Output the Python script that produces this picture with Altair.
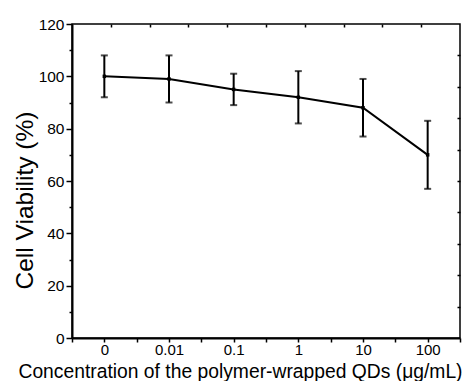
import json
import altair as alt
import pandas as pd

concentrations = ["0", "0.01", "0.1", "1", "10", "100"]
viability = [100, 99, 95, 92, 88, 70]
error = [8, 9, 6, 10, 11, 13]

df = pd.DataFrame({
    "idx": list(range(len(concentrations))),
    "conc": concentrations,
    "v": viability,
    "lo": [v - e for v, e in zip(viability, error)],
    "hi": [v + e for v, e in zip(viability, error)],
})

FONT = "Liberation Sans, Arial"
xscale = alt.Scale(domain=[-0.5, 5.5], nice=False, zero=False)
yscale = alt.Scale(domain=[0, 120], nice=False)

label_arr = json.dumps(concentrations)
x_label_expr = (
    f"(datum.value % 1 === 0 && datum.value >= 0 && datum.value <= 5) ? "
    f"{label_arr}[datum.value] : ''"
)

x_bottom = alt.X(
    "idx:Q", scale=xscale,
    axis=alt.Axis(
        orient="bottom",
        values=[-0.5, 0, 0.5, 1, 1.5, 2, 2.5, 3, 3.5, 4, 4.5, 5, 5.5],
        labelExpr=x_label_expr, labelFont=FONT, labelFontSize=15,
        labelColor="black", labelPadding=0, labelFlush=False,
        tickSize=4, tickWidth=1.5, tickColor="black",
        domainColor="black", domainWidth=2, grid=False,
        title="Concentration of the polymer-wrapped QDs (\u03bcg/mL)",
        titleFont=FONT, titleFontSize=19.3, titleFontWeight="normal",
        titleColor="black", titleX=168, titleY=39,
        titleBaseline="alphabetic", titleAlign="center",
    ),
)
y_left = alt.Y(
    "v:Q", scale=yscale,
    axis=alt.Axis(
        orient="left",
        values=list(range(0, 121, 10)),
        labelExpr="datum.value % 20 === 0 ? datum.label : ''",
        labelFont=FONT, labelFontSize=15.5, labelColor="black", labelPadding=2,
        labelFlush=False,
        tickSize={"expr": "datum.value % 20 === 0 ? 6 : 3"},
        tickWidth=1.5, tickColor="black",
        domainColor="black", domainWidth=2, grid=False,
        title="Cell Viability (%)", titleFont=FONT, titleFontSize=24.5,
        titleFontWeight="normal", titleColor="black",
        titleX=-40, titleY=176, titleBaseline="alphabetic", titleAlign="center",
        titleAngle=270,
    ),
)

base = alt.Chart(df)

line = base.mark_line(color="black", strokeWidth=2).encode(x=x_bottom, y=y_left)

rules = base.mark_rule(color="black", strokeWidth=2).encode(
    x=alt.X("idx:Q", scale=xscale, axis=None),
    y=alt.Y("lo:Q", scale=yscale, axis=None),
    y2="hi:Q",
)
caps_hi = base.mark_tick(color="black", thickness=2, size=7, orient="horizontal").encode(
    x=alt.X("idx:Q", scale=xscale, axis=None),
    y=alt.Y("hi:Q", scale=yscale, axis=None),
)
caps_lo = base.mark_tick(color="black", thickness=2, size=7, orient="horizontal").encode(
    x=alt.X("idx:Q", scale=xscale, axis=None),
    y=alt.Y("lo:Q", scale=yscale, axis=None),
)

points = base.mark_point(shape="square", filled=True, color="black", size=12, opacity=1).encode(
    x=alt.X(
        "idx:Q", scale=xscale,
        axis=alt.Axis(
            orient="top", values=[0.1, 0.7, 1.3, 1.9, 2.5, 3.1, 3.7, 4.3, 4.9],
            labels=False, domain=False, tickSize=3, tickWidth=1.5,
            tickColor="black", offset=-3, title=None, grid=False,
        ),
    ),
    y=alt.Y(
        "v:Q", scale=yscale,
        axis=alt.Axis(
            orient="right", values=[12, 24, 36, 48, 60, 72, 84, 96, 108],
            labels=False, domain=False, tickSize=3, tickWidth=1.5,
            tickColor="black", offset=-3, title=None, grid=False,
        ),
    ),
)

chart = (
    alt.layer(line, rules, caps_hi, caps_lo, points)
    .resolve_axis(x="independent", y="independent")
    .properties(
        width=388, height=314,
        autosize=alt.AutoSizeParams(type="none"),
        padding={"left": 64, "top": 16, "right": 4, "bottom": 43},
        background="white",
    )
    .configure_view(stroke="black", strokeWidth=1.5)
)

chart.save("out.html", embed_options={"renderer": "svg", "actions": False})
